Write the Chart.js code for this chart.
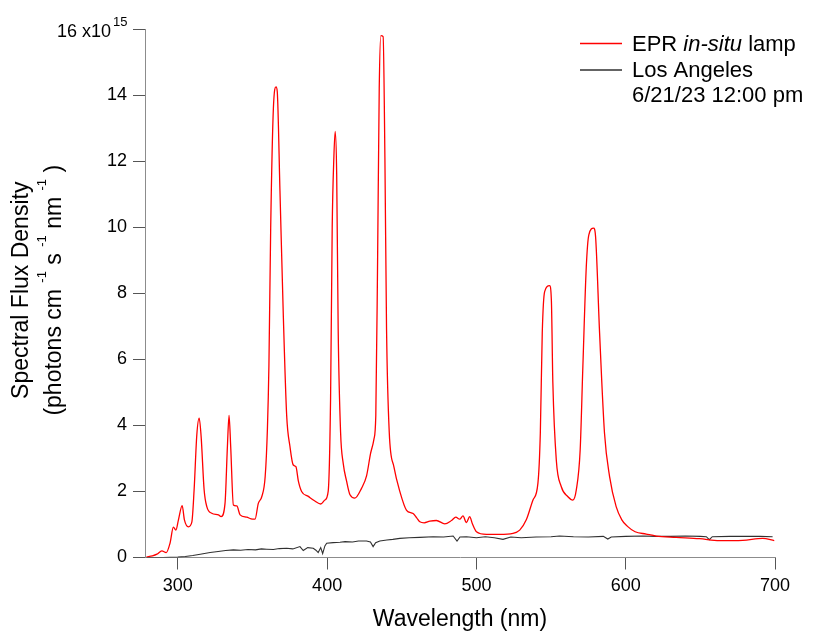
<!DOCTYPE html>
<html>
<head>
<meta charset="utf-8">
<script src="https://cdn.jsdelivr.net/npm/chart.js@4"></script>
<style>
  html, body { margin: 0; padding: 0; background: #fff; }
</style>
</head>
<body>
<canvas id="myChart" width="815" height="631"></canvas>
<script>
// EPR in-situ lamp spectrum (nm, x10^15 photons cm-1 s-1 nm-1)
const lampWavelength = [279, 283, 286, 289.3, 292.2, 294.8, 297, 298.7, 300.4, 302.9, 304.4, 307.1, 309.4, 310.9, 312.7, 314.3, 315.6, 317.6, 319.4, 322.7,
  327.2, 329, 331.6, 333.2, 334.3, 335.4, 337.2, 339.5, 341.7, 346.2, 349, 351.7, 353.9, 356.2, 358.5, 360, 361, 362.2, 364, 365.8,
  366.6, 368.4, 370.6, 372.9, 375.1, 377.3, 379.1, 380.7, 382.9, 387.4, 391.8, 395.7, 398.5, 400.7, 402.3, 403.4, 404.5, 405.4, 406.4, 407.4,
  409, 410.8, 413, 415.3, 418.6, 423.1, 426.4, 429.1, 431.3, 432.6, 433.8, 434.9, 436, 437.5, 438.7, 439.8, 441.6, 444.7, 448.7, 453.2,
  457.6, 460, 462.1, 465, 468.8, 473.2, 478.8, 483.3, 486.2, 488.8, 491, 493.3, 495.5, 497.3, 500, 506.7, 515.6, 524.5, 529, 533.4,
  537.9, 541.2, 542.8, 544.1, 545.7, 549, 550.2, 551.2, 553.5, 556.8, 561.3, 564.6, 566.9, 569.5, 571.3, 573.6, 575.3, 578.5, 579.8, 582.5,
  585.8, 589.2, 593.6, 597.4, 601, 606.3, 613.7, 620.4, 633.8, 649.4, 662.8, 678.4, 691.7, 699.5];
const lampFlux = [0.02, 0.05, 0.1, 0.2, 0.15, 0.44, 0.92, 0.83, 1.14, 1.57, 1.14, 0.93, 1.08, 2.05, 3.71, 4.22, 3.66, 2.05, 1.54, 1.34,
  1.29, 1.24, 1.64, 3.36, 4.3, 3.36, 1.59, 1.56, 1.29, 1.22, 1.17, 1.16, 1.64, 1.84, 2.45, 3.9, 5.8, 10.0, 13.6, 14.25,
  14.1, 11.1, 7.4, 4.3, 3.36, 2.8, 2.75, 2.32, 2.0, 1.85, 1.71, 1.62, 1.74, 2.0, 4.8, 10.0, 12.1, 12.9, 11.6, 6.9,
  3.8, 2.84, 2.32, 1.9, 1.8, 2.1, 2.47, 3.15, 3.57, 4.3, 9.0, 14.2, 15.8, 15.77, 12.1, 6.9, 3.8, 2.75, 2.0, 1.43,
  1.33, 1.2, 1.08, 1.05, 1.1, 1.12, 1.02, 1.12, 1.22, 1.16, 1.26, 1.06, 1.24, 1.02, 0.78, 0.7, 0.7, 0.73, 0.83, 1.14,
  1.74, 2.25, 3.76, 6.8, 8.05, 8.23, 7.8, 5.28, 2.95, 2.15, 1.84, 1.74, 2.05, 3.26, 5.78, 8.81, 9.77, 9.97, 9.72, 6.8,
  3.76, 2.45, 1.54, 1.14, 0.95, 0.78, 0.71, 0.65, 0.61, 0.57, 0.51, 0.52, 0.58, 0.51];

// Los Angeles solar spectrum, 6/21/23 12:00 pm
const laWavelength = [279, 290, 300, 305, 310, 315, 321.6, 327, 332, 337.2, 342, 347, 352, 356, 359.5, 364, 368, 372.9, 377, 381.8,
  384, 387, 390.7, 392.5, 394, 395.7, 397, 398.5, 399.7, 404, 408.6, 412, 417, 421, 426.4, 429, 430.8, 432.5, 435.3, 440,
  444, 448.7, 455, 462, 471, 478, 484.4, 487, 489, 493.3, 500, 506, 512, 517.8, 523, 530, 540, 550, 555.7, 565,
  575, 585, 588, 590.3, 600, 611.4, 620, 630, 640, 650, 654, 656, 658, 670, 680, 690, 698.4];
const laFlux = [0.0, 0.0, 0.01, 0.03, 0.06, 0.1, 0.15, 0.18, 0.21, 0.23, 0.22, 0.24, 0.23, 0.26, 0.25, 0.24, 0.27, 0.28, 0.26, 0.33,
  0.21, 0.3, 0.28, 0.22, 0.15, 0.3, 0.12, 0.35, 0.43, 0.45, 0.46, 0.48, 0.47, 0.5, 0.5, 0.47, 0.33, 0.45, 0.5, 0.53,
  0.55, 0.58, 0.6, 0.61, 0.63, 0.62, 0.65, 0.5, 0.62, 0.63, 0.6, 0.63, 0.6, 0.55, 0.62, 0.6, 0.62, 0.63, 0.65, 0.63,
  0.62, 0.64, 0.56, 0.62, 0.64, 0.65, 0.64, 0.64, 0.65, 0.64, 0.63, 0.54, 0.63, 0.64, 0.64, 0.64, 0.63];

const xTicks = [300, 400, 500, 600, 700];
const yTicks = [0, 2, 4, 6, 8, 10, 12, 14, 16];
const yExponent = '15';

const FONT = '"Liberation Sans", Arial, Helvetica, sans-serif';

function toPoints(xs, ys) {
  return xs.map((x, i) => ({ x: x, y: ys[i] }));
}

// draws the y title (with superscripts), the exponent on the top tick, and the legend
const extras = {
  id: 'extras',
  afterDraw(chart) {
    const c = chart.ctx;
    const ys = chart.scales.y;
    const area = chart.chartArea;
    c.save();
    c.fillStyle = '#000';

    // top tick label "16 x10^15"
    const yTop = ys.getPixelForValue(16);
    c.font = '18px ' + FONT;
    c.textAlign = 'right';
    c.textBaseline = 'middle';
    c.fillText('16 x10', ys.right - 34, yTop + 3);
    c.textAlign = 'left';
    c.font = '13px ' + FONT;
    c.fillText(yExponent, ys.right - 32, yTop - 7);

    // y axis title
    const midY = (area.top + area.bottom) / 2 - 3;
    c.save();
    c.translate(28, midY);
    c.rotate(-Math.PI / 2);
    c.font = '23px ' + FONT;
    c.textAlign = 'center';
    c.textBaseline = 'alphabetic';
    c.fillText('Spectral Flux Density', 0, 0);
    c.restore();

    const parts = [['(photons cm ', false], ['-1', true], [' s ', false], ['-1', true], [' nm ', false], ['-1', true], [' )', false]];
    const big = '23px ' + FONT, small = '13px ' + FONT;
    let total = 0;
    parts.forEach(p => { c.font = p[1] ? small : big; total += c.measureText(p[0]).width; });
    c.save();
    c.translate(61, midY);
    c.rotate(-Math.PI / 2);
    c.textAlign = 'left';
    c.textBaseline = 'alphabetic';
    let u = -total / 2;
    parts.forEach(p => {
      c.font = p[1] ? small : big;
      c.fillText(p[0], u, p[1] ? -15 : 0);
      u += c.measureText(p[0]).width;
    });
    c.restore();

    // legend
    const lx = 580, lineLen = 42, tx = 632;
    c.lineWidth = 1.3;
    c.strokeStyle = chart.data.datasets[0].borderColor;
    c.beginPath(); c.moveTo(lx, 43.5); c.lineTo(lx + lineLen, 43.5); c.stroke();
    c.strokeStyle = chart.data.datasets[1].borderColor;
    c.beginPath(); c.moveTo(lx, 70); c.lineTo(lx + lineLen, 70); c.stroke();

    c.textAlign = 'left';
    c.textBaseline = 'alphabetic';
    let x = tx;
    [['EPR ', ''], ['in-situ', 'italic '], [' lamp', '']].forEach(p => {
      c.font = p[1] + '22px ' + FONT;
      c.fillText(p[0], x, 51);
      x += c.measureText(p[0]).width;
    });
    c.font = '22px ' + FONT;
    c.fillText('Los Angeles', tx, 76.5);
    c.fillText('6/21/23 12:00 pm', tx, 102);
    c.restore();
  }
};

const ctx = document.getElementById('myChart');
new Chart(ctx, {
  type: 'line',
  data: {
    datasets: [{
      label: 'EPR in-situ lamp',
      data: toPoints(lampWavelength, lampFlux),
      borderColor: '#ff0000',
      borderWidth: 1.3,
      pointRadius: 0,
      cubicInterpolationMode: 'monotone',
      fill: false
    }, {
      label: 'Los Angeles 6/21/23 12:00 pm',
      data: toPoints(laWavelength, laFlux),
      borderColor: '#303030',
      borderWidth: 1.1,
      pointRadius: 0,
      tension: 0,
      fill: false
    }]
  },
  options: {
    responsive: false,
    animation: false,
    layout: { padding: { top: 29, right: 40, left: 0, bottom: 0 } },
    plugins: {
      legend: { display: false },
      tooltip: { enabled: false }
    },
    scales: {
      x: {
        type: 'linear',
        min: 278,
        max: 700,
        afterBuildTicks: (axis) => { axis.ticks = xTicks.map(v => ({ value: v })); },
        afterFit: (axis) => { axis.height = 73.5; },
        grid: { drawOnChartArea: false, drawTicks: true, tickLength: 12, color: '#555' },
        border: { display: true, color: '#8c8c8c' },
        ticks: { color: '#000', font: { family: FONT, size: 18 }, padding: 6, maxRotation: 0 },
        title: {
          display: true,
          text: 'Wavelength (nm)',
          color: '#000',
          font: { family: FONT, size: 23, lineHeight: 1 },
          padding: { top: 0, bottom: 0 }
        }
      },
      y: {
        min: 0,
        max: 16,
        afterBuildTicks: (axis) => { axis.ticks = yTicks.map(v => ({ value: v })); },
        afterFit: (axis) => { axis.width = 145; },
        grid: { drawOnChartArea: false, drawTicks: true, tickLength: 12, color: '#555' },
        border: { display: true, color: '#8c8c8c' },
        ticks: {
          color: '#000',
          font: { family: FONT, size: 18 },
          padding: 6,
          callback: (v) => v === 16 ? '' : v
        }
      }
    }
  },
  plugins: [extras]
});
</script>
</body>
</html>
